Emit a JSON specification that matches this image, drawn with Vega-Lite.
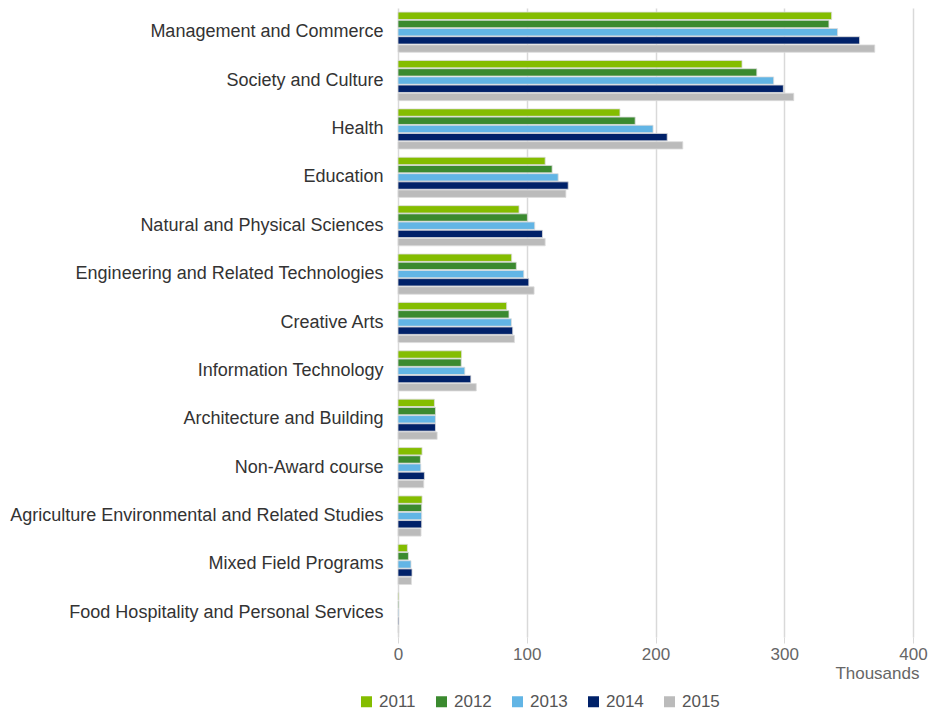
{
  "$schema": "https://vega.github.io/schema/vega-lite/v6.json",
  "autosize": {"type": "none"},
  "width": 515,
  "height": 629,
  "padding": {"left": 398, "top": 8, "right": 18, "bottom": 76},
  "background": "white",
  "config": {"font": "Liberation Sans", "view": {"stroke": null}},
  "data": {
    "values": [
      {"field": "Management and Commerce", "year": "2011", "value": 336.8},
      {"field": "Management and Commerce", "year": "2012", "value": 334.7},
      {"field": "Management and Commerce", "year": "2013", "value": 341.4},
      {"field": "Management and Commerce", "year": "2014", "value": 358.5},
      {"field": "Management and Commerce", "year": "2015", "value": 370.3},
      {"field": "Society and Culture", "year": "2011", "value": 267.2},
      {"field": "Society and Culture", "year": "2012", "value": 278.7},
      {"field": "Society and Culture", "year": "2013", "value": 291.8},
      {"field": "Society and Culture", "year": "2014", "value": 299.3},
      {"field": "Society and Culture", "year": "2015", "value": 307.4},
      {"field": "Health", "year": "2011", "value": 172.4},
      {"field": "Health", "year": "2012", "value": 184.2},
      {"field": "Health", "year": "2013", "value": 198.1},
      {"field": "Health", "year": "2014", "value": 209.1},
      {"field": "Health", "year": "2015", "value": 221.2},
      {"field": "Education", "year": "2011", "value": 114.3},
      {"field": "Education", "year": "2012", "value": 119.7},
      {"field": "Education", "year": "2013", "value": 124.4},
      {"field": "Education", "year": "2014", "value": 132.2},
      {"field": "Education", "year": "2015", "value": 130.4},
      {"field": "Natural and Physical Sciences", "year": "2011", "value": 94.0},
      {"field": "Natural and Physical Sciences", "year": "2012", "value": 100.5},
      {"field": "Natural and Physical Sciences", "year": "2013", "value": 106.2},
      {"field": "Natural and Physical Sciences", "year": "2014", "value": 112.2},
      {"field": "Natural and Physical Sciences", "year": "2015", "value": 114.3},
      {"field": "Engineering and Related Technologies", "year": "2011", "value": 88.3},
      {"field": "Engineering and Related Technologies", "year": "2012", "value": 91.9},
      {"field": "Engineering and Related Technologies", "year": "2013", "value": 97.7},
      {"field": "Engineering and Related Technologies", "year": "2014", "value": 101.6},
      {"field": "Engineering and Related Technologies", "year": "2015", "value": 105.7},
      {"field": "Creative Arts", "year": "2011", "value": 84.4},
      {"field": "Creative Arts", "year": "2012", "value": 86.2},
      {"field": "Creative Arts", "year": "2013", "value": 88.1},
      {"field": "Creative Arts", "year": "2014", "value": 89.1},
      {"field": "Creative Arts", "year": "2015", "value": 90.4},
      {"field": "Information Technology", "year": "2011", "value": 49.4},
      {"field": "Information Technology", "year": "2012", "value": 49.1},
      {"field": "Information Technology", "year": "2013", "value": 51.9},
      {"field": "Information Technology", "year": "2014", "value": 56.6},
      {"field": "Information Technology", "year": "2015", "value": 60.8},
      {"field": "Architecture and Building", "year": "2011", "value": 28.3},
      {"field": "Architecture and Building", "year": "2012", "value": 29.1},
      {"field": "Architecture and Building", "year": "2013", "value": 29.1},
      {"field": "Architecture and Building", "year": "2014", "value": 29.1},
      {"field": "Architecture and Building", "year": "2015", "value": 30.4},
      {"field": "Non-Award course", "year": "2011", "value": 18.7},
      {"field": "Non-Award course", "year": "2012", "value": 17.4},
      {"field": "Non-Award course", "year": "2013", "value": 17.7},
      {"field": "Non-Award course", "year": "2014", "value": 20.5},
      {"field": "Non-Award course", "year": "2015", "value": 20.0},
      {"field": "Agriculture Environmental and Related Studies", "year": "2011", "value": 18.7},
      {"field": "Agriculture Environmental and Related Studies", "year": "2012", "value": 18.4},
      {"field": "Agriculture Environmental and Related Studies", "year": "2013", "value": 18.4},
      {"field": "Agriculture Environmental and Related Studies", "year": "2014", "value": 18.4},
      {"field": "Agriculture Environmental and Related Studies", "year": "2015", "value": 17.9},
      {"field": "Mixed Field Programs", "year": "2011", "value": 7.3},
      {"field": "Mixed Field Programs", "year": "2012", "value": 8.1},
      {"field": "Mixed Field Programs", "year": "2013", "value": 10.1},
      {"field": "Mixed Field Programs", "year": "2014", "value": 10.9},
      {"field": "Mixed Field Programs", "year": "2015", "value": 10.4},
      {"field": "Food Hospitality and Personal Services", "year": "2011", "value": 0.6},
      {"field": "Food Hospitality and Personal Services", "year": "2012", "value": 0.6},
      {"field": "Food Hospitality and Personal Services", "year": "2013", "value": 0.6},
      {"field": "Food Hospitality and Personal Services", "year": "2014", "value": 0.6},
      {"field": "Food Hospitality and Personal Services", "year": "2015", "value": 0.6}
    ]
  },
  "mark": {"type": "bar", "stroke": "#dcdcdc", "strokeWidth": 0.8},
  "encoding": {
    "y": {
      "field": "field",
      "type": "nominal",
      "sort": null,
      "scale": {"paddingInner": 0.17, "paddingOuter": 0.085},
      "axis": {
        "title": null,
        "ticks": false,
        "domain": false,
        "labelPadding": 15,
        "labelFontSize": 18,
        "labelColor": "#333333",
        "labelLimit": 500
      }
    },
    "yOffset": {"field": "year", "type": "nominal", "scale": {"paddingInner": 0.1}},
    "x": {
      "field": "value",
      "type": "quantitative",
      "scale": {"domain": [0, 400]},
      "axis": {
        "values": [0, 100, 200, 300, 400],
        "title": "Thousands",
        "titleAnchor": "end",
        "titleX": 521,
        "titleFontSize": 17,
        "titleFontWeight": "normal",
        "titleColor": "#666666",
        "titlePadding": 3,
        "labelFontSize": 17,
        "labelColor": "#666666",
        "labelPadding": 3,
        "labelFlush": false,
        "domain": false,
        "tickSize": 6,
        "tickColor": "#d9d9d9",
        "gridColor": "#d9d9d9",
        "gridWidth": 1.5
      }
    },
    "color": {
      "field": "year",
      "type": "nominal",
      "scale": {
        "domain": ["2011", "2012", "2013", "2014", "2015"],
        "range": ["#84bd00", "#3b8a2f", "#62b5e5", "#002169", "#bbbbbb"]
      },
      "legend": {
        "title": null,
        "orient": "none",
        "direction": "horizontal",
        "legendX": -40,
        "legendY": 685,
        "symbolType": "square",
        "symbolSize": 121,
        "symbolStrokeWidth": 0,
        "labelFontSize": 17,
        "labelColor": "#555555",
        "labelOffset": 4,
        "columnPadding": 17
      }
    }
  }
}
